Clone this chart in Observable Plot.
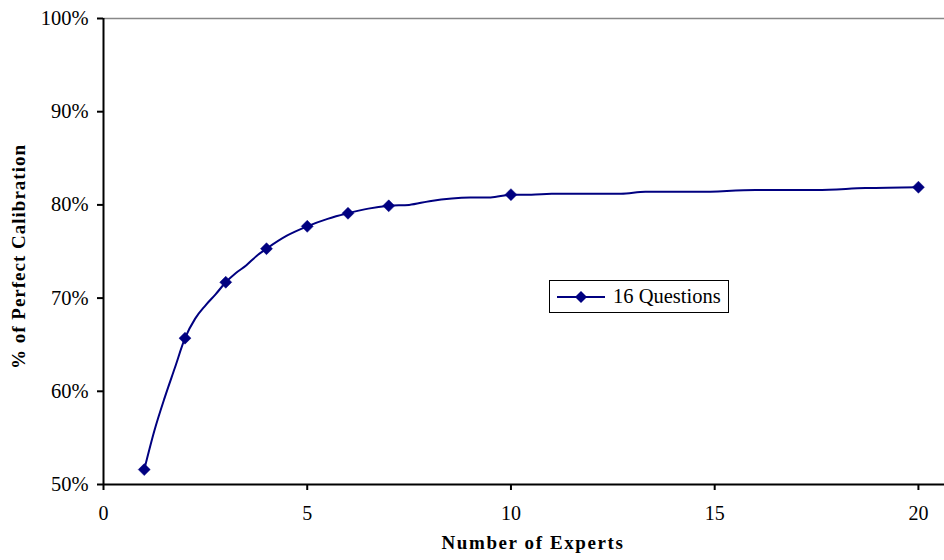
<!DOCTYPE html>
<html>
<head>
<meta charset="utf-8">
<script src="https://cdn.jsdelivr.net/npm/d3@7"></script>
<script src="https://cdn.jsdelivr.net/npm/@observablehq/plot@0.6"></script>
<style>
  html, body { margin: 0; padding: 0; background: #fff; }
  #wrap { position: relative; width: 944px; height: 560px; font-family: "Liberation Serif", "Times New Roman", serif; }
  #legend { position: absolute; left: 549px; top: 280px; width: 178px; height: 31px; border: 1.5px solid #000; background: #fff; display: flex; align-items: center; font-size: 20.5px; color: #000; }
  #legend svg { margin-left: 7px; margin-right: 8px; }
  .ytitle { letter-spacing: 1px; }
  .xtitle { letter-spacing: 1.6px; }
</style>
</head>
<body>
<div id="wrap"></div>
<script>
// Marker points (x = number of experts, y = fraction of perfect calibration)
const experts = [1, 2, 3, 4, 5, 6, 7, 10, 20];
const calibration = [0.516, 0.657, 0.717, 0.753, 0.777, 0.791, 0.799, 0.811, 0.819];

// Full connecting line (denser path)
const lineX = [1, 1.25, 1.5, 1.75, 2, 2.25, 2.5, 2.75, 3, 3.25, 3.5, 3.75, 4, 4.5, 5, 5.5, 6, 6.5, 7, 7.5, 8, 9, 9.5, 10, 10.5, 11, 12.7, 13.3, 14.6, 16, 17.5, 18.7, 20];
const lineY = [0.516, 0.558, 0.593, 0.625, 0.657, 0.678, 0.692, 0.704, 0.717, 0.727, 0.735, 0.745, 0.753, 0.767, 0.777, 0.785, 0.791, 0.796, 0.799, 0.800, 0.804, 0.808, 0.808, 0.811, 0.811, 0.812, 0.812, 0.814, 0.814, 0.816, 0.816, 0.818, 0.819];

const xTicks = [0, 5, 10, 15, 20];
const yTicks = [0.5, 0.6, 0.7, 0.8, 0.9, 1.0];

const points = experts.map((x, i) => ({x, y: calibration[i]}));
const linePts = lineX.map((x, i) => ({x, y: lineY[i]}));
const navy = "#000080";

const chart = Plot.plot({
  width: 944,
  height: 560,
  marginLeft: 103,
  marginRight: 0,
  marginTop: 18,
  marginBottom: 76,
  style: { fontFamily: "'Liberation Serif', 'Times New Roman', serif", fontSize: "20px", color: "#000", background: "#fff" },
  x: { domain: [0, 20.64] },
  y: { domain: [0.5, 1.0] },
  marks: [
    Plot.ruleY([1.0], { stroke: "#888", strokeWidth: 1.5 }),
    Plot.axisY({ ticks: yTicks, tickFormat: d3.format(".0%"), tickSize: 6, tickPadding: 9, fontSize: 20.5, stroke: "#000", strokeWidth: 2, strokeOpacity: 1, label: null }),
    Plot.axisX({ ticks: xTicks, tickFormat: d3.format("d"), tickSize: 6, tickPadding: 15, fontSize: 20, stroke: "#000", strokeWidth: 2, strokeOpacity: 1, label: null }),
    Plot.ruleX([0], { stroke: "#000", strokeWidth: 2 }),
    Plot.ruleY([0.5], { stroke: "#000", strokeWidth: 2 }),
    Plot.line(linePts, { x: "x", y: "y", stroke: navy, strokeWidth: 2, curve: "monotone-x" }),
    Plot.dot(points, { x: "x", y: "y", symbol: "diamond2", r: 5.4, fill: navy, stroke: navy, strokeWidth: 0.5 }),
    Plot.text(["Number of Experts"], { frameAnchor: "bottom", textAnchor: "middle", lineAnchor: "middle", dy: 58, dx: 9, fontWeight: "bold", fontSize: 19, fill: "#000", className: "xtitle" }),
    Plot.text(["% of Perfect Calibration"], { frameAnchor: "left", textAnchor: "middle", lineAnchor: "middle", dx: -85, dy: 5, rotate: -90, fontWeight: "bold", fontSize: 19, fill: "#000", className: "ytitle" })
  ]
});

const wrap = document.getElementById("wrap");
wrap.appendChild(chart);

const legend = document.createElement("div");
legend.id = "legend";
legend.innerHTML = `<svg width="48" height="16"><line x1="0" y1="8" x2="48" y2="8" stroke="${navy}" stroke-width="2"/><path d="M24,2 L30,8 L24,14 L18,8 Z" fill="${navy}"/></svg><span>16 Questions</span>`;
wrap.appendChild(legend);
</script>
</body>
</html>
